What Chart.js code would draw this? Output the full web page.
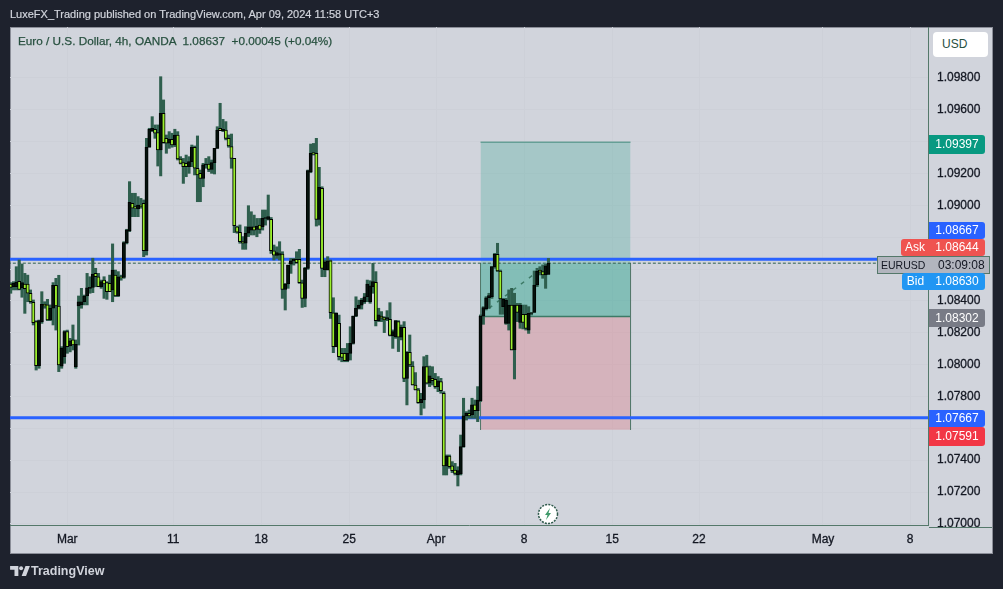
<!DOCTYPE html>
<html>
<head>
<meta charset="utf-8">
<title>EURUSD 4h</title>
<script src="https://cdn.jsdelivr.net/npm/chart.js@4"></script>
<style>
  html, body { margin: 0; padding: 0; background: #1e222d; overflow: hidden; }
  body { width: 1003px; height: 589px; position: relative; font-family: "Liberation Sans", sans-serif; }
  #frame { position: absolute; left: 10px; top: 27px; width: 981px; height: 525px; background: #d1d4dc; border: 1px solid #8b8e98; }
  #chart { position: absolute; left: 0; top: 0; }
  .txt { position: absolute; white-space: pre; }
  #published { left: 10px; top: 8px; color: #d1d4dc; font-size: 11px; -webkit-text-stroke: 0.2px #d1d4dc; }
  #legend { left: 18px; top: 34px; color: #27503f; font-size: 11.75px; -webkit-text-stroke: 0.25px #27503f; }
  #brand { left: 31px; top: 564px; color: #d1d4dc; font-size: 12.5px; font-weight: bold; }
  .tag { position: absolute; left: 929px; width: 56px; text-align: center; color: #fff; font-size: 12px; border-radius: 0 3px 3px 0; box-sizing: border-box; }
  .side { position: absolute; text-align: center; color: #fff; font-size: 12px; border-radius: 3px 0 0 3px; box-sizing: border-box; }
  #usd { position: absolute; left: 933px; top: 32px; width: 55px; height: 25px; line-height: 25px; background: #fff; border-radius: 4px; color: #27503f; font-size: 12px; padding-left: 9px; box-sizing: border-box; }
  #cross { position: absolute; left: 877px; top: 256px; width: 113px; height: 18px; background: #b2b5be; border: 1px solid #54786a; box-sizing: border-box; color: #131722; line-height: 16px; }
  #stub { position: absolute; left: 929px; top: 527px; width: 63px; height: 1px; background: #54786a; }
  #bolt { position: absolute; left: 537px; top: 503px; }
  #logo { position: absolute; left: 10px; top: 566px; }
</style>
</head>
<body>
<div id="frame"></div>
<canvas id="chart" width="1003" height="589"></canvas>

<div class="txt" id="published">LuxeFX_Trading published on TradingView.com, Apr 09, 2024 11:58 UTC+3</div>
<div class="txt" id="legend">Euro / U.S. Dollar, 4h, OANDA  1.08637  +0.00045 (+0.04%)</div>

<div id="usd">USD</div>
<div class="tag" style="top:135px;height:19px;line-height:19px;background:#089981">1.09397</div>
<div class="tag" style="top:222px;height:17px;line-height:17px;background:#2962ff">1.08667</div>
<div class="tag" style="top:239px;height:17px;line-height:17px;background:#ef5350">1.08644</div>
<div class="side" style="left:901px;width:28px;top:239px;height:17px;line-height:17px;background:#ef5350">Ask</div>
<div id="cross"><span class="txt" style="left:3px;font-size:10.5px">EURUSD</span><span class="txt" style="left:60px;font-size:12px">03:09:08</span></div>
<div class="tag" style="top:273px;height:17px;line-height:17px;background:#2196f3">1.08630</div>
<div class="side" style="left:902px;width:27px;top:273px;height:17px;line-height:17px;background:#2196f3">Bid</div>
<div class="tag" style="top:309px;height:18px;line-height:18px;background:#787b86">1.08302</div>
<div class="tag" style="top:410px;height:17px;line-height:17px;background:#2962ff">1.07667</div>
<div class="tag" style="top:427px;height:19px;line-height:19px;background:#f23645">1.07591</div>
<div id="stub"></div>

<svg id="bolt" width="22" height="22" viewBox="0 0 22 22">
  <circle cx="11" cy="11" r="9.5" fill="#fff" stroke="#2f5a4c" stroke-width="1.5" stroke-dasharray="2 1.2"/>
  <path d="M13 5 L8 12 L10.5 12 L9 17 L14 10 L11.5 10 Z" fill="#3f9a6a"/>
</svg>
<svg id="logo" width="20" height="11" viewBox="0 0 36 20">
  <path d="M0 0H15V18H8V7H0Z M21 18L28 0H36L29 18Z" fill="#d1d4dc"/>
  <circle cx="20" cy="4" r="3.6" fill="#d1d4dc"/>
</svg>
<div class="txt" id="brand">TradingView</div>

<script>
// 4h bars, oldest first
const barOpen = [
  1.08506,1.08489,1.08489,1.08523,1.08481,1.08506,1.08506,1.08448,1.08391,1.08270,
  1.07994,1.08270,1.08379,1.08375,1.08280,1.08354,1.08498,1.08368,1.07991,1.08050,
  1.08207,1.08117,1.08155,1.07987,1.08368,1.08375,1.08395,1.08431,1.08479,1.08485,
  1.08573,1.08552,1.08489,1.08531,1.08515,1.08510,1.08469,1.08562,1.08431,1.08552,
  1.08548,1.08766,1.08841,1.09013,1.08992,1.08977,1.09002,1.09013,1.08716,1.09365,
  1.09469,1.09478,1.09457,1.09348,1.09578,1.09421,1.09390,1.09415,1.09379,1.09442,
  1.09291,1.09268,1.09264,1.09243,1.09275,1.09365,1.09233,1.09201,1.09170,1.09254,
  1.09260,1.09226,1.09268,1.09358,1.09484,1.09469,1.09473,1.09421,1.09369,1.09295,
  1.08866,1.08831,1.08772,1.08762,1.08825,1.08845,1.08866,1.08849,1.08876,1.08866,
  1.08918,1.08912,1.08912,1.08715,1.08686,1.08688,1.08694,1.08472,1.08506,1.08631,
  1.08652,1.08661,1.08661,1.08514,1.08416,1.08604,1.09211,1.09331,1.09326,1.08912,
  1.09107,1.08594,1.08594,1.08652,1.08326,1.08112,1.08259,1.08071,1.08071,1.08025,
  1.08071,1.08133,1.08305,1.08353,1.08374,1.08395,1.08426,1.08396,1.08490,1.08517,
  1.08276,1.08305,1.08295,1.08285,1.08285,1.08180,1.08176,1.08270,1.08172,1.08234,
  1.07914,1.08077,1.07991,1.07872,1.07841,1.07761,1.07778,1.07987,1.07883,1.07914,
  1.07908,1.07862,1.07893,1.07820,1.07364,1.07426,1.07364,1.07338,1.07307,1.07313,
  1.07485,1.07678,1.07694,1.07684,1.07747,1.07711,1.07774,1.08305,1.08351,1.08420,
  1.08427,1.08615,1.08693,1.08588,1.08364,1.08259,1.08259,1.08374,1.08092,1.08374,
  1.08265,1.08316,1.08316,1.08217,1.08322,1.08328,1.08500,1.08594,1.08584,1.08563,
  1.08567
];
const barHigh = [
  1.08515,1.08521,1.08615,1.08657,1.08632,1.08573,1.08562,1.08469,1.08406,1.08276,
  1.08280,1.08458,1.08395,1.08410,1.08375,1.08515,1.08542,1.08561,1.08113,1.08213,
  1.08217,1.08165,1.08249,1.08155,1.08431,1.08479,1.08437,1.08573,1.08552,1.08668,
  1.08605,1.08573,1.08531,1.08552,1.08521,1.08562,1.08758,1.08594,1.08584,1.08562,
  1.08772,1.08850,1.09149,1.09076,1.09076,1.09055,1.09044,1.09034,1.09421,1.09484,
  1.09557,1.09505,1.09505,1.09808,1.09662,1.09442,1.09463,1.09453,1.09478,1.09463,
  1.09306,1.09295,1.09316,1.09306,1.09379,1.09373,1.09436,1.09222,1.09264,1.09295,
  1.09306,1.09285,1.09327,1.09494,1.09641,1.09540,1.09526,1.09442,1.09448,1.09295,
  1.08870,1.08877,1.08804,1.08866,1.08998,1.08960,1.08939,1.08918,1.08918,1.08971,
  1.08971,1.09065,1.08924,1.08751,1.08740,1.08772,1.08709,1.08510,1.08625,1.08667,
  1.08667,1.08709,1.08724,1.08531,1.08611,1.09222,1.09385,1.09389,1.09421,1.09239,
  1.09117,1.08657,1.08678,1.08657,1.08420,1.08326,1.08311,1.08102,1.08102,1.08133,
  1.08238,1.08305,1.08426,1.08405,1.08416,1.08447,1.08531,1.08527,1.08636,1.08584,
  1.08354,1.08333,1.08301,1.08339,1.08389,1.08218,1.08276,1.08276,1.08249,1.08270,
  1.08082,1.08186,1.08019,1.07950,1.07851,1.07820,1.08050,1.08059,1.07991,1.07987,
  1.07945,1.07925,1.07914,1.07830,1.07433,1.07433,1.07391,1.07380,1.07359,1.07558,
  1.07789,1.07705,1.07715,1.07789,1.07778,1.07862,1.08312,1.08364,1.08427,1.08448,
  1.08615,1.08699,1.08762,1.08594,1.08416,1.08416,1.08469,1.08479,1.08448,1.08385,
  1.08385,1.08374,1.08374,1.08364,1.08328,1.08588,1.08605,1.08615,1.08626,1.08630,
  1.08667
];
const barLow = [
  1.08448,1.08469,1.08469,1.08469,1.08423,1.08322,1.08395,1.08385,1.08249,1.07966,
  1.07977,1.08259,1.08354,1.08276,1.08276,1.08249,1.08217,1.07956,1.07977,1.08008,
  1.08071,1.08080,1.08092,1.07977,1.08123,1.08354,1.08375,1.08375,1.08448,1.08452,
  1.08489,1.08489,1.08479,1.08416,1.08410,1.08458,1.08395,1.08427,1.08427,1.08530,
  1.08542,1.08758,1.08835,1.08929,1.08929,1.08929,1.08982,1.08678,1.08688,1.09365,
  1.09463,1.09421,1.09247,1.09185,1.09390,1.09327,1.09358,1.09365,1.09369,1.09285,
  1.09260,1.09138,1.09180,1.09201,1.09243,1.09191,1.09023,1.09023,1.09117,1.09233,
  1.09212,1.09201,1.09197,1.09358,1.09469,1.09463,1.09411,1.09365,1.09233,1.08829,
  1.08825,1.08762,1.08724,1.08724,1.08804,1.08814,1.08814,1.08803,1.08824,1.08845,
  1.08876,1.08908,1.08698,1.08657,1.08667,1.08657,1.08416,1.08343,1.08479,1.08573,
  1.08625,1.08636,1.08510,1.08359,1.08363,1.08598,1.09205,1.09316,1.08870,1.08876,
  1.08552,1.08552,1.08594,1.08290,1.08075,1.08112,1.08029,1.08018,1.08018,1.08018,
  1.08029,1.08129,1.08301,1.08349,1.08349,1.08384,1.08395,1.08385,1.08448,1.08243,
  1.08270,1.08270,1.08201,1.08276,1.08180,1.08102,1.08165,1.08082,1.08155,1.07893,
  1.07747,1.07987,1.07872,1.07841,1.07757,1.07684,1.07726,1.07878,1.07862,1.07872,
  1.07851,1.07830,1.07820,1.07307,1.07307,1.07349,1.07322,1.07307,1.07238,1.07307,
  1.07481,1.07652,1.07663,1.07663,1.07663,1.07642,1.07768,1.08253,1.08343,1.08353,
  1.08416,1.08605,1.08584,1.08316,1.08316,1.08253,1.08217,1.08092,1.07910,1.08270,
  1.08228,1.08224,1.08217,1.08196,1.08312,1.08328,1.08490,1.08563,1.08542,1.08479,
  1.08567
];
const barClose = [
  1.08485,1.08510,1.08519,1.08473,1.08515,1.08477,1.08448,1.08395,1.08263,1.07994,
  1.08276,1.08379,1.08368,1.08280,1.08354,1.08498,1.08368,1.07998,1.08102,1.08207,
  1.08113,1.08150,1.08123,1.08127,1.08395,1.08395,1.08431,1.08483,1.08485,1.08569,
  1.08552,1.08489,1.08521,1.08506,1.08458,1.08458,1.08594,1.08431,1.08552,1.08545,
  1.08766,1.08846,1.09019,1.08982,1.08982,1.09002,1.08992,1.08716,1.09365,1.09478,
  1.09484,1.09453,1.09348,1.09578,1.09394,1.09390,1.09415,1.09379,1.09442,1.09291,
  1.09264,1.09243,1.09243,1.09275,1.09365,1.09233,1.09191,1.09170,1.09254,1.09260,
  1.09226,1.09268,1.09358,1.09473,1.09469,1.09478,1.09421,1.09373,1.09295,1.08873,
  1.08831,1.08772,1.08762,1.08825,1.08866,1.08866,1.08845,1.08870,1.08849,1.08918,
  1.08924,1.08929,1.08715,1.08688,1.08703,1.08698,1.08472,1.08506,1.08625,1.08652,
  1.08661,1.08640,1.08514,1.08416,1.08604,1.09218,1.09326,1.09322,1.08912,1.09113,
  1.08604,1.08646,1.08652,1.08326,1.08112,1.08322,1.08050,1.08046,1.08025,1.08071,
  1.08133,1.08305,1.08353,1.08374,1.08405,1.08426,1.08506,1.08494,1.08521,1.08276,
  1.08312,1.08291,1.08280,1.08295,1.08184,1.08208,1.08276,1.08172,1.08234,1.07914,
  1.08077,1.07998,1.07872,1.07841,1.07761,1.07782,1.07987,1.07883,1.07929,1.07899,
  1.07862,1.07899,1.07837,1.07364,1.07426,1.07359,1.07334,1.07317,1.07334,1.07485,
  1.07678,1.07694,1.07678,1.07747,1.07711,1.07778,1.08305,1.08358,1.08420,1.08433,
  1.08615,1.08693,1.08588,1.08412,1.08410,1.08406,1.08374,1.08092,1.08374,1.08328,
  1.08374,1.08265,1.08228,1.08322,1.08326,1.08500,1.08588,1.08580,1.08563,1.08621,
  1.08637
];

const priceTicks = [1.098, 1.096, 1.094, 1.092, 1.09, 1.088, 1.086, 1.084, 1.082, 1.08, 1.078, 1.076, 1.074, 1.072, 1.07];
const timeTicks  = [20, 57.4, 88.5, 119.6, 150.3, 181.4, 212.5, 243.2, 287, 317.8];
const timeLabels = ['Mar', '11', '18', '25', 'Apr', '8', '15', '22', 'May', '8'];

// drawn levels and the long position tool
const resistance = 1.08662;
const support    = 1.07667;
const lastPrice  = 1.08637;
const target     = 1.09397;
const entry      = 1.08302;
const stop       = 1.07591;
const toolBars   = [166, 219];
const pathBars   = [169, 190];
const pathPrices = [1.08354, 1.08636];

const LIME = '#9bf02e', DARK = '#04120c', WICK = '#2f5f4e', AXIS = '#54786a', GRID = '#cdd0d8';

function hLine(label, price, color, width, order, dash) {
    return {
        type: 'line', label, order,
        data: [{ x: -1, y: price }, { x: 330, y: price }],
        borderColor: color, borderWidth: width, borderDash: dash || [],
        pointRadius: 0
    };
}

function zone(label, top, bottom, color, order) {
    return {
        type: 'line', label, order,
        data: toolBars.map(x => ({ x, y: top })),
        borderWidth: 0, pointRadius: 0,
        backgroundColor: color,
        fill: { value: bottom }
    };
}

function edge(label, x, order) {
    return {
        type: 'line', label, order,
        data: [{ x, y: lastPrice }, { x, y: stop }],
        borderColor: AXIS, borderWidth: 1, pointRadius: 0
    };
}

new Chart(document.getElementById('chart'), {
    type: 'bar',
    data: {
        datasets: [
            {
                label: 'Body', order: 1, grouped: false,
                data: barOpen.map((o, i) => ({ x: i, y: [o, barClose[i]] })),
                barThickness: 3.2,
                backgroundColor: barOpen.map((o, i) => barClose[i] < o ? LIME : DARK),
                borderColor: '#000',
                borderWidth: 1,
                borderSkipped: false
            },
            {
                label: 'Wick', order: 2, grouped: false,
                data: barHigh.map((h, i) => ({ x: i, y: [barLow[i], h] })),
                barThickness: 2.4,
                backgroundColor: WICK
            },
            {
                type: 'line', label: 'Path', order: 3,
                data: pathBars.map((x, i) => ({ x, y: pathPrices[i] })),
                borderColor: '#3d7a66', borderWidth: 1.5, borderDash: [4, 6], pointRadius: 0
            },
            hLine('Resistance', resistance, '#2962ff', 3, 4),
            hLine('Support', support, '#2962ff', 3, 4),
            hLine('Last', lastPrice, WICK, 1, 6, [3, 2]),
            edge('Tool start', toolBars[0], 7),
            edge('Tool end', toolBars[1], 7),
            {
                type: 'line', label: 'Entry', order: 7,
                data: toolBars.map(x => ({ x, y: entry })),
                borderColor: '#3d7a66', borderWidth: 1.5, pointRadius: 0
            },
            {
                type: 'line', label: 'Target', order: 7,
                data: toolBars.map(x => ({ x, y: target })),
                borderColor: '#3d8a78', borderWidth: 1, pointRadius: 0
            },
            zone('Open profit', lastPrice, entry, 'rgba(8,153,129,0.22)', 8),
            zone('Profit', target, entry, 'rgba(8,153,129,0.22)', 9),
            zone('Risk', entry, stop, 'rgba(220,110,120,0.32)', 9)
        ]
    },
    options: {
        responsive: false,
        animation: false,
        layout: { padding: { left: 10, top: 27, right: 11, bottom: 36 } },
        plugins: { legend: { display: false }, tooltip: { enabled: false } },
        scales: {
            x: {
                type: 'linear', offset: false,
                min: -0.24, max: 324.1,
                grid: { offset: false, color: GRID, drawTicks: false },
                border: { color: AXIS },
                afterBuildTicks: scale => { scale.ticks = timeTicks.map(value => ({ value })); },
                afterFit: scale => { scale.height = 28; },
                ticks: {
                    autoSkip: false, maxRotation: 0, padding: 7,
                    color: '#131722', font: { family: 'Liberation Sans', size: 12 },
                    textStrokeColor: '#131722', textStrokeWidth: 0.3,
                    callback: (value, index) => timeLabels[index]
                }
            },
            y: {
                position: 'right',
                min: 1.06993, max: 1.1012,
                grid: { color: GRID, drawTicks: false },
                border: { color: AXIS },
                afterBuildTicks: scale => { scale.ticks = priceTicks.map(value => ({ value })); },
                afterFit: scale => { scale.width = 64; },
                ticks: {
                    autoSkip: false, padding: 9,
                    color: '#131722', font: { family: 'Liberation Sans', size: 12 },
                    textStrokeColor: '#131722', textStrokeWidth: 0.3,
                    callback: value => value.toFixed(5)
                }
            }
        }
    }
});
</script>
</body>
</html>
